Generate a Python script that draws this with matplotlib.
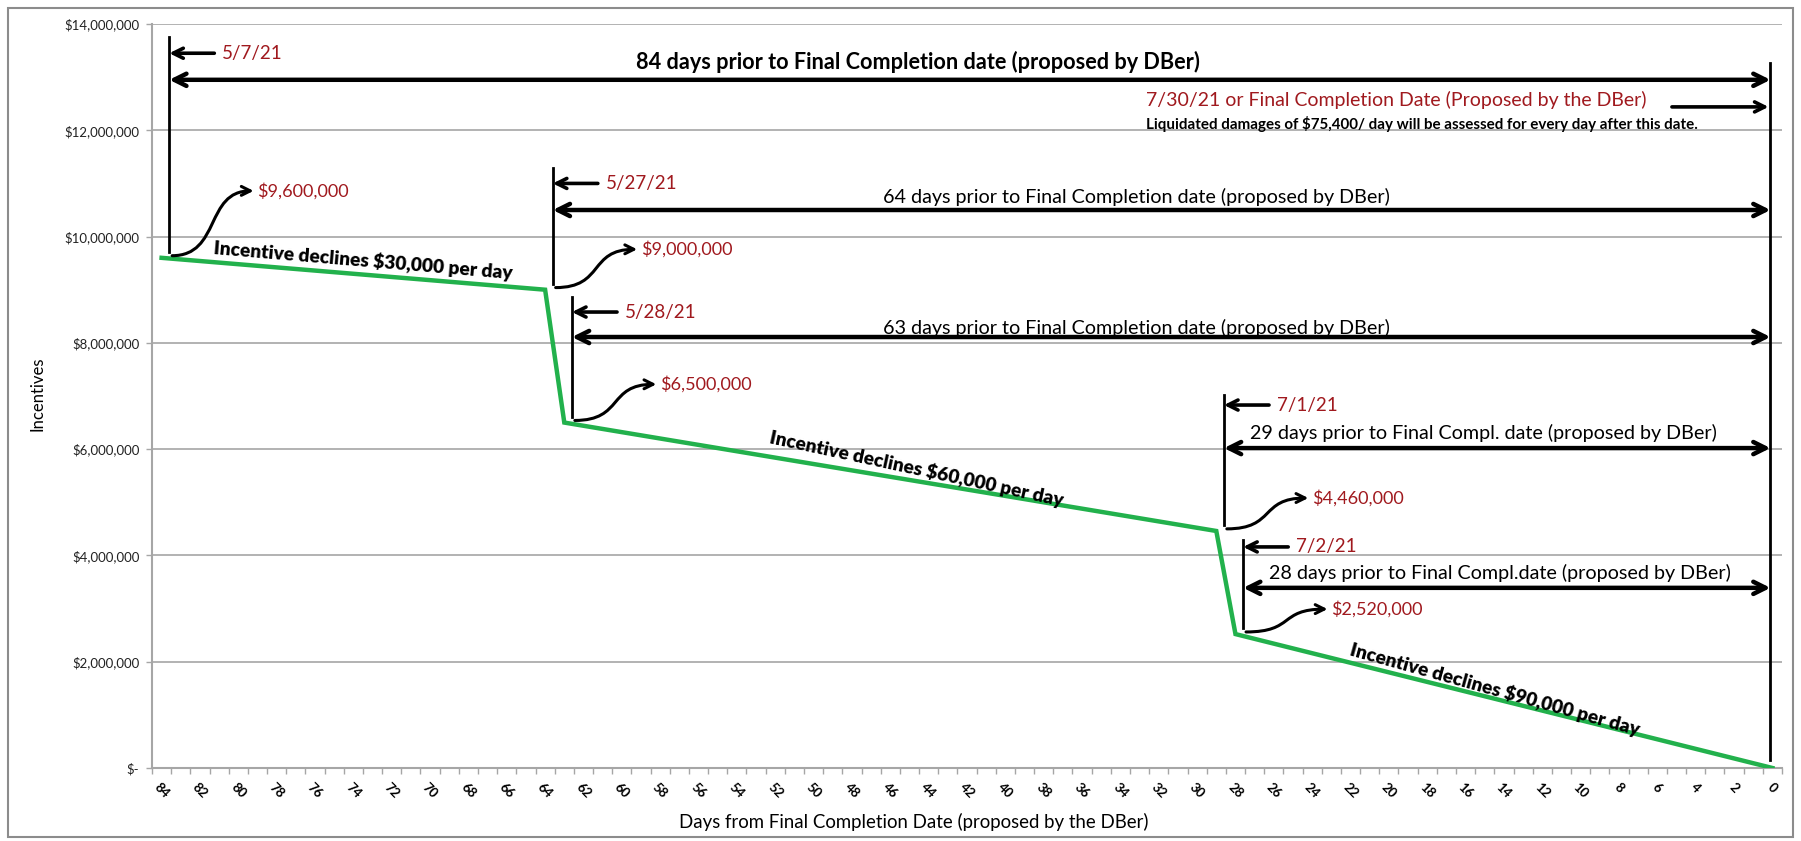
import numpy as np
import matplotlib
matplotlib.use("Agg")
import matplotlib.pyplot as plt
from matplotlib.path import Path
from matplotlib.patches import FancyArrowPatch, Rectangle
from matplotlib.ticker import FuncFormatter, FixedLocator

plt.rcParams['font.family'] = ['Lato', 'DejaVu Sans']

# incentive schedule: days before final completion and incentive amount
days = [84, 64, 63, 29, 28, 0]
incentive = [9600000, 9000000, 6500000, 4460000, 2520000, 0]

# milestone markers (index into the schedule above)
milestone_idx = [0, 1, 2, 3, 4]
milestone_dates = ["5/7/21", "5/27/21", "5/28/21", "7/1/21", "7/2/21"]
span_labels = [
    "84 days prior to Final Completion date (proposed by DBer)",
    "64 days prior to Final Completion date (proposed by DBer)",
    "63 days prior to Final Completion date (proposed by DBer)",
    "29 days prior to Final Compl. date (proposed by DBer)",
    "28 days prior to Final Compl.date (proposed by DBer)",
]
decline_labels = [
    "Incentive declines $30,000 per day",
    "Incentive declines $60,000 per day",
    "Incentive declines $90,000 per day",
]

RED = '#A0191E'
GREEN = '#22B14C'
GRID = '#A6A6A6'

W, H = 1801, 841
fig = plt.figure(figsize=(W / 100, H / 100), dpi=100)
fig.patches.append(Rectangle((8 / W, 4 / H), (1793 - 8) / W, (833 - 4) / H,
                             transform=fig.transFigure, fill=False,
                             edgecolor='#8C8C8C', lw=1.5))

ax = fig.add_axes([152 / W, 1 - 768 / H, (1782 - 152) / W, (768 - 24) / H])
ax.plot(days, incentive, color=GREEN, lw=3.2, solid_joinstyle='miter', zorder=3)

ax.set_xlim(84.5, -0.5)
ax.set_ylim(0, 14000000)
ax.set_yticks(np.arange(0, 14000001, 2000000))
ax.yaxis.set_major_formatter(FuncFormatter(lambda v, p: '$-' if v == 0 else f'${v:,.0f}'))
ax.yaxis.grid(True, color=GRID, lw=1.2)
ax.set_axisbelow(True)

ax.xaxis.set_major_locator(FixedLocator(np.arange(84, -1, -2)))
ax.xaxis.set_minor_locator(FixedLocator(np.arange(84.5, -1, -1)))
ax.tick_params(axis='x', which='major', length=0, pad=9, labelsize=9.5, rotation=-45)
ax.tick_params(axis='x', which='minor', length=4, width=1, color=GRID)
ax.tick_params(axis='y', length=4, width=1, color=GRID, pad=5, labelsize=9.5,
               labelcolor='#222222')
for lab in ax.get_xticklabels():
    lab.set_fontweight('bold')

for s in ['top', 'right']:
    ax.spines[s].set_visible(False)
for s in ['left', 'bottom']:
    ax.spines[s].set_color(GRID)
    ax.spines[s].set_linewidth(1.5)

fig.text(37 / W, 1 - 394 / H, "Incentives", rotation=90, ha='center', va='center', fontsize=12)
fig.text(914 / W, 1 - 822 / H, "Days from Final Completion Date (proposed by the DBer)",
         ha='center', va='center', fontsize=13.4)


def arrow(x0, x1, y, style, lw=3, ms=20):
    ax.annotate('', xy=(x1, y), xytext=(x0, y),
                arrowprops=dict(arrowstyle=style, lw=lw, color='black',
                                shrinkA=0, shrinkB=0, mutation_scale=ms))


def s_curve(x0, y0, x1, y1):
    verts = [(x0, y0), (x0 + 0.6 * (x1 - x0), y0), (x0 + 0.4 * (x1 - x0), y1), (x1, y1)]
    path = Path(verts, [Path.MOVETO, Path.CURVE4, Path.CURVE4, Path.CURVE4])
    ax.add_patch(FancyArrowPatch(path=path, arrowstyle='->', lw=2.2, color='black',
                                 mutation_scale=16, zorder=4))


# layout of the dimension lines (style only)
line_top = [13750000, 11290000, 8860000, 7020000, 4290000]
date_y = [13450000, 11000000, 8580000, 6830000, 4160000]
span_y = [12950000, 10500000, 8110000, 6020000, 3390000]
span_text_y = [13290000, 10740000, 8280000, 6300000, 3670000]
span_text_x = [44.55, 33.18, 33.18, 15.08, 14.2]
value_dy = [1260000, 760000, 720000, 620000, 470000]

for k, i in enumerate(milestone_idx):
    d, v = days[i], incentive[i]
    lx = d - 0.4
    ax.plot([lx, lx], [v + 110000, line_top[k]], color='black', lw=2, zorder=4)
    arrow(lx - 2.35, lx, date_y[k], '->', lw=2.6, ms=18)
    ax.text(lx - 2.75, date_y[k], milestone_dates[k], color=RED, fontsize=13.5,
            ha='left', va='center')
    arrow(lx, 0.1, span_y[k], '<->', lw=3.2, ms=22)
    bold = 'bold' if k == 0 else 'normal'
    ax.text(span_text_x[k], span_text_y[k], span_labels[k], ha='center', va='center',
            fontsize=15.6 if k == 0 else 14.2, fontweight=bold)
    s_curve(d - 0.55, v + 40000, d - 4.8, v + value_dy[k])
    ax.text(d - 5.0, v + value_dy[k], f'${v:,.0f}', color=RED, fontsize=13,
            ha='left', va='center')

# final completion marker
ax.plot([0.1, 0.1], [150000, 13260000], color='black', lw=2, zorder=4)
ax.text(32.66, 12570000, "7/30/21 or Final Completion Date (Proposed by the DBer)",
        color=RED, fontsize=14, ha='left', va='center')
arrow(5.24, 0.2, 12440000, '->', lw=2.6, ms=18)
ax.text(32.66, 12120000,
        "Liquidated damages of $75,400/ day will be assessed for every day after this date.",
        fontsize=10.9, fontweight='bold', ha='left', va='center')

# decline rate labels along each sloped segment
decl_pos = [(73.48, 9560000, -4.8), (44.65, 5640000, -12.2), (14.46, 1470000, -15.6)]
for txt, (x, y, rot) in zip(decline_labels, decl_pos):
    ax.text(x, y, txt, fontsize=13.8, fontweight='heavy', rotation=rot,
            rotation_mode='anchor', ha='center', va='center')

fig.savefig("out.png", dpi=100)
